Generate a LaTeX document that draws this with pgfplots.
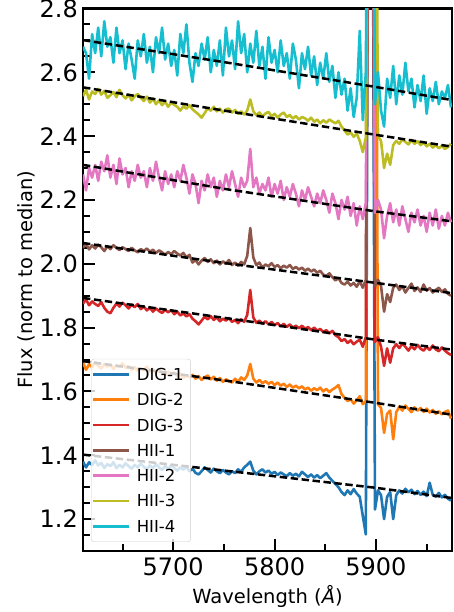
\documentclass[border=0pt]{standalone}
\usepackage{fontspec}
\setmainfont{DejaVu Sans}
\usepackage{pgfplots}
\usepackage{pgfplotstable}
\pgfplotsset{compat=1.18}
\definecolor{cA}{RGB}{31,119,180}
\definecolor{cB}{RGB}{255,127,14}
\definecolor{cC}{RGB}{214,39,40}
\definecolor{cD}{RGB}{140,86,75}
\definecolor{cE}{RGB}{227,119,194}
\definecolor{cF}{RGB}{188,189,34}
\definecolor{cG}{RGB}{23,190,207}
\definecolor{lgray}{RGB}{204,204,204}

\pgfplotstableread{
x d1 d2 d3 h1 h2 h3 h4
5611 1.380 1.690 1.875 2.050 2.28 2.525 2.68
5614 1.362 1.668 1.888 2.062 2.23 2.545 2.66
5617 1.378 1.685 1.870 2.045 2.30 2.515 2.58
5620 1.370 1.676 1.882 2.058 2.27 2.540 2.72
5623 1.384 1.692 1.874 2.048 2.31 2.532 2.66
5626 1.368 1.680 1.868 2.060 2.26 2.548 2.74
5629 1.376 1.672 1.880 2.052 2.32 2.530 2.65
5632 1.360 1.686 1.862 2.040 2.29 2.542 2.76
5635 1.372 1.678 1.850 2.055 2.34 2.520 2.68
5638 1.366 1.684 1.845 2.046 2.27 2.528 2.71
5641 1.378 1.670 1.862 2.058 2.31 2.538 2.63
5644 1.360 1.682 1.875 2.050 2.25 2.522 2.74
5647 1.370 1.676 1.866 2.043 2.33 2.545 2.66
5650 1.362 1.688 1.878 2.052 2.28 2.528 2.70
5653 1.375 1.674 1.870 2.046 2.30 2.518 2.61
5656 1.366 1.680 1.860 2.040 2.24 2.530 2.69
5659 1.358 1.668 1.872 2.050 2.29 2.512 2.64
5662 1.370 1.676 1.864 2.042 2.26 2.525 2.58
5665 1.362 1.664 1.874 2.036 2.31 2.532 2.70
5668 1.374 1.672 1.858 2.046 2.27 2.520 2.65
5671 1.364 1.666 1.866 2.040 2.29 2.510 2.72
5674 1.356 1.678 1.854 2.048 2.24 2.524 2.63
5677 1.368 1.662 1.862 2.038 2.30 2.505 2.68
5680 1.360 1.670 1.850 2.044 2.26 2.518 2.60
5683 1.372 1.658 1.860 2.034 2.32 2.500 2.71
5686 1.362 1.668 1.852 2.042 2.27 2.512 2.66
5689 1.354 1.660 1.846 2.036 2.23 2.497 2.74
5692 1.366 1.652 1.856 2.028 2.29 2.508 2.64
5695 1.358 1.662 1.848 2.037 2.25 2.492 2.69
5698 1.368 1.654 1.855 2.030 2.28 2.505 2.62
5701 1.360 1.660 1.842 2.040 2.24 2.498 2.67
5704 1.352 1.648 1.850 2.032 2.29 2.492 2.59
5707 1.362 1.656 1.838 2.026 2.26 2.480 2.72
5710 1.355 1.642 1.845 2.034 2.31 2.494 2.66
5713 1.364 1.650 1.835 2.020 2.27 2.486 2.75
5716 1.350 1.644 1.842 2.028 2.22 2.497 2.63
5719 1.358 1.652 1.828 2.004 2.28 2.484 2.57
5722 1.345 1.640 1.820 2.012 2.25 2.476 2.66
5725 1.340 1.648 1.810 1.998 2.19 2.468 2.62
5728 1.350 1.636 1.822 2.010 2.26 2.458 2.69
5731 1.362 1.644 1.834 2.018 2.23 2.472 2.64
5734 1.354 1.650 1.826 2.006 2.28 2.488 2.71
5737 1.346 1.638 1.836 2.014 2.24 2.480 2.60
5740 1.358 1.646 1.824 2.002 2.27 2.492 2.67
5743 1.350 1.634 1.832 2.010 2.21 2.478 2.62
5746 1.344 1.642 1.820 1.998 2.26 2.486 2.70
5749 1.354 1.630 1.828 2.008 2.23 2.474 2.59
5752 1.346 1.638 1.822 2.000 2.28 2.484 2.74
5755 1.340 1.632 1.830 2.012 2.24 2.486 2.65
5758 1.350 1.628 1.818 1.996 2.29 2.474 2.70
5761 1.344 1.640 1.824 2.004 2.25 2.482 2.61
5764 1.356 1.630 1.814 1.994 2.21 2.470 2.76
5767 1.348 1.644 1.826 2.006 2.27 2.478 2.66
5770 1.362 1.636 1.818 1.998 2.24 2.468 2.72
5773 1.370 1.650 1.840 2.025 2.26 2.480 2.60
5776 1.380 1.686 1.918 2.112 2.36 2.515 2.69
5779 1.352 1.640 1.832 2.020 2.24 2.478 2.63
5782 1.340 1.628 1.815 1.996 2.27 2.466 2.73
5785 1.350 1.636 1.822 2.004 2.22 2.474 2.62
5788 1.356 1.626 1.812 1.988 2.25 2.462 2.68
5791 1.346 1.632 1.820 1.998 2.23 2.471 2.58
5794 1.352 1.624 1.810 1.992 2.27 2.476 2.71
5797 1.342 1.630 1.818 2.002 2.21 2.462 2.63
5800 1.348 1.620 1.808 1.990 2.25 2.470 2.67
5803 1.338 1.628 1.814 1.996 2.22 2.458 2.60
5806 1.346 1.618 1.804 1.986 2.26 2.468 2.70
5809 1.340 1.624 1.812 1.994 2.20 2.474 2.62
5812 1.334 1.614 1.802 1.988 2.24 2.460 2.66
5815 1.344 1.622 1.810 1.996 2.21 2.466 2.58
5818 1.336 1.612 1.800 1.984 2.25 2.455 2.69
5821 1.342 1.618 1.806 1.990 2.22 2.463 2.64
5824 1.334 1.610 1.798 1.982 2.18 2.452 2.55
5827 1.348 1.616 1.806 1.988 2.23 2.460 2.66
5830 1.340 1.606 1.796 1.978 2.20 2.456 2.61
5833 1.332 1.612 1.802 1.985 2.24 2.448 2.68
5836 1.340 1.602 1.792 1.976 2.21 2.458 2.59
5839 1.330 1.610 1.800 1.982 2.18 2.445 2.65
5842 1.338 1.604 1.790 1.972 2.22 2.452 2.56
5845 1.328 1.612 1.796 1.978 2.19 2.440 2.63
5848 1.336 1.600 1.786 1.966 2.23 2.450 2.58
5851 1.344 1.608 1.792 1.962 2.20 2.442 2.66
5854 1.330 1.598 1.782 1.970 2.16 2.452 2.57
5857 1.320 1.606 1.790 1.958 2.22 2.446 2.62
5860 1.310 1.612 1.776 1.948 2.19 2.440 2.52
5863 1.300 1.620 1.770 1.955 2.14 2.448 2.60
5866 1.285 1.592 1.758 1.940 2.20 2.430 2.53
5869 1.275 1.580 1.764 1.935 2.17 2.418 2.58
5872 1.290 1.570 1.752 1.944 2.21 2.405 2.48
5875 1.278 1.576 1.760 1.932 2.15 2.412 2.55
5878 1.294 1.562 1.748 1.940 2.19 2.398 2.46
5881 1.280 1.572 1.756 1.928 2.12 2.408 2.52
5884 1.270 1.585 1.762 1.945 2.18 2.385 2.73
5887 1.210 1.560 1.740 1.925 2.14 2.350 2.45
5890 1.152 1.570 1.770 1.950 2.19 2.395 2.60
5893 4.0 4.0 4.0 4.0 4.0 4.0 4.0
5896 4.0 4.0 4.0 4.0 4.0 4.0 4.0
5899 1.230 4.0 1.755 1.930 2.16 4.0 2.50
5902 1.290 1.560 1.770 1.950 2.20 2.400 2.60
5905 1.275 1.548 1.740 1.930 2.17 2.385 2.48
5908 1.200 1.470 1.680 1.850 2.08 2.300 2.43
5911 1.270 1.530 1.735 1.905 2.15 2.345 2.58
5914 1.285 1.540 1.690 1.880 2.19 2.310 2.52
5917 1.200 1.450 1.735 1.925 2.13 2.372 2.62
5920 1.275 1.535 1.748 1.935 2.17 2.385 2.50
5923 1.290 1.552 1.736 1.918 2.12 2.376 2.59
5926 1.280 1.540 1.750 1.930 2.18 2.390 2.53
5929 1.295 1.556 1.740 1.910 2.14 2.382 2.63
5932 1.284 1.545 1.728 1.924 2.10 2.374 2.54
5935 1.292 1.535 1.742 1.938 2.16 2.388 2.58
5938 1.278 1.550 1.732 1.915 2.13 2.376 2.49
5941 1.288 1.540 1.746 1.926 2.17 2.384 2.56
5944 1.276 1.548 1.734 1.912 2.12 2.372 2.51
5947 1.286 1.536 1.728 1.935 2.15 2.380 2.59
5950 1.272 1.546 1.740 1.916 2.10 2.368 2.47
5953 1.314 1.534 1.730 1.924 2.16 2.376 2.55
5956 1.276 1.542 1.744 1.910 2.12 2.364 2.51
5959 1.270 1.530 1.732 1.918 2.17 2.372 2.57
5962 1.282 1.538 1.726 1.925 2.11 2.362 2.50
5965 1.268 1.528 1.738 1.912 2.15 2.370 2.54
5968 1.276 1.536 1.728 1.920 2.12 2.360 2.52
5971 1.264 1.540 1.720 1.906 2.16 2.366 2.56
5974 1.258 1.515 1.714 1.900 2.13 2.376 2.49
}\spec

\begin{document}
\begin{tikzpicture}
\begin{axis}[
  scale only axis,
  width=369pt, height=542.5pt,
  xmin=5611, xmax=5975, ymin=1.1, ymax=2.8,
  xtick={5700,5800,5900},
  minor xtick={5650,5750,5850,5950},
  ytick={1.2,1.4,1.6,1.8,2.0,2.2,2.4,2.6,2.8},
  minor ytick={1.15,1.25,1.3,1.35,1.45,1.5,1.55,1.65,1.7,1.75,1.85,1.9,1.95,2.05,2.1,2.15,2.25,2.3,2.35,2.45,2.5,2.55,2.65,2.7,2.75},
  xtick pos=bottom, ytick pos=left,
  tick align=inside,
  major tick length=12.3pt, minor tick length=6.7pt,
  every tick/.style={black, line width=2pt},
  axis line style={line width=2.5pt},
  scaled ticks=false,
  /pgf/number format/assume math mode=true,
  xticklabel style={/pgf/number format/1000 sep={}, font=\fontsize{24}{28}\selectfont, inner sep=0pt, yshift=-6pt},
  yticklabel style={/pgf/number format/fixed, /pgf/number format/fixed zerofill, /pgf/number format/precision=1, font=\fontsize{24}{28}\selectfont, inner sep=0pt, xshift=-5pt},
  xlabel={Wavelength ({\itshape Å})},
  ylabel={Flux (norm to median)},
  xlabel style={at={(axis description cs:0.5,-0.0959)}, anchor=base, inner sep=0pt, font=\fontsize{19.5}{22}\selectfont},
  ylabel style={at={(axis description cs:-0.1382,0.5)}, anchor=base, inner sep=0pt, font=\fontsize{19.5}{22}\selectfont},
  legend cell align=left,
  legend image code/.code={\draw[#1, line width=2.6pt, draw opacity=1] (0pt,0pt) -- (36pt,0pt);},
  legend style={at={(0.0217,0.0166)}, anchor=south west, draw=lgray, fill=white, fill opacity=0.8, text opacity=1, rounded corners=3pt, inner xsep=0pt, inner ysep=8.5pt, row sep=11.3pt, font=\fontsize{16.5}{18}\selectfont, nodes={inner xsep=7pt, inner ysep=0pt, text height=13pt, text depth=1pt}},
  every axis plot/.append style={line join=round},
]
\addplot[cA, line width=2.6pt] table[x=x,y=d1]{\spec};
\addlegendentry{DIG-1}
\addplot[black, line width=2.5pt, dash pattern=on 7.4pt off 3.6pt, forget plot] coordinates {(5611,1.402) (5756,1.350) (5900,1.298) (5975,1.266)};
\addplot[cB, line width=2.6pt] table[x=x,y=d2]{\spec};
\addlegendentry{DIG-2}
\addplot[black, line width=2.5pt, dash pattern=on 7.4pt off 3.6pt, forget plot] coordinates {(5611,1.695) (5756,1.632) (5900,1.564) (5975,1.527)};
\addplot[cC, line width=2.6pt] table[x=x,y=d3]{\spec};
\addlegendentry{DIG-3}
\addplot[black, line width=2.5pt, dash pattern=on 7.4pt off 3.6pt, forget plot] coordinates {(5611,1.893) (5756,1.828) (5900,1.762) (5975,1.731)};
\addplot[cD, line width=2.6pt] table[x=x,y=h1]{\spec};
\addlegendentry{HII-1}
\addplot[black, line width=2.5pt, dash pattern=on 7.4pt off 3.6pt, forget plot] coordinates {(5611,2.065) (5756,2.000) (5900,1.940) (5975,1.908)};
\addplot[cE, line width=2.6pt] table[x=x,y=h2]{\spec};
\addlegendentry{HII-2}
\addplot[black, line width=2.5pt, dash pattern=on 7.4pt off 3.6pt, forget plot] coordinates {(5611,2.310) (5756,2.232) (5900,2.164) (5975,2.133)};
\addplot[cF, line width=2.6pt] table[x=x,y=h3]{\spec};
\addlegendentry{HII-3}
\addplot[black, line width=2.5pt, dash pattern=on 7.4pt off 3.6pt, forget plot] coordinates {(5611,2.553) (5756,2.477) (5900,2.404) (5975,2.367)};
\addplot[cG, line width=2.6pt] table[x=x,y=h4]{\spec};
\addlegendentry{HII-4}
\addplot[black, line width=2.5pt, dash pattern=on 7.4pt off 3.6pt, forget plot] coordinates {(5611,2.701) (5756,2.629) (5900,2.554) (5975,2.513)};
\coordinate (ll) at (rel axis cs:0,0);
\coordinate (ur) at (rel axis cs:1,1);
\end{axis}
\pgfresetboundingbox
\path[use as bounding box] ([xshift=-83pt,yshift=-61pt]ll) rectangle ([xshift=1pt,yshift=8.5pt]ur);
\end{tikzpicture}
\end{document}
